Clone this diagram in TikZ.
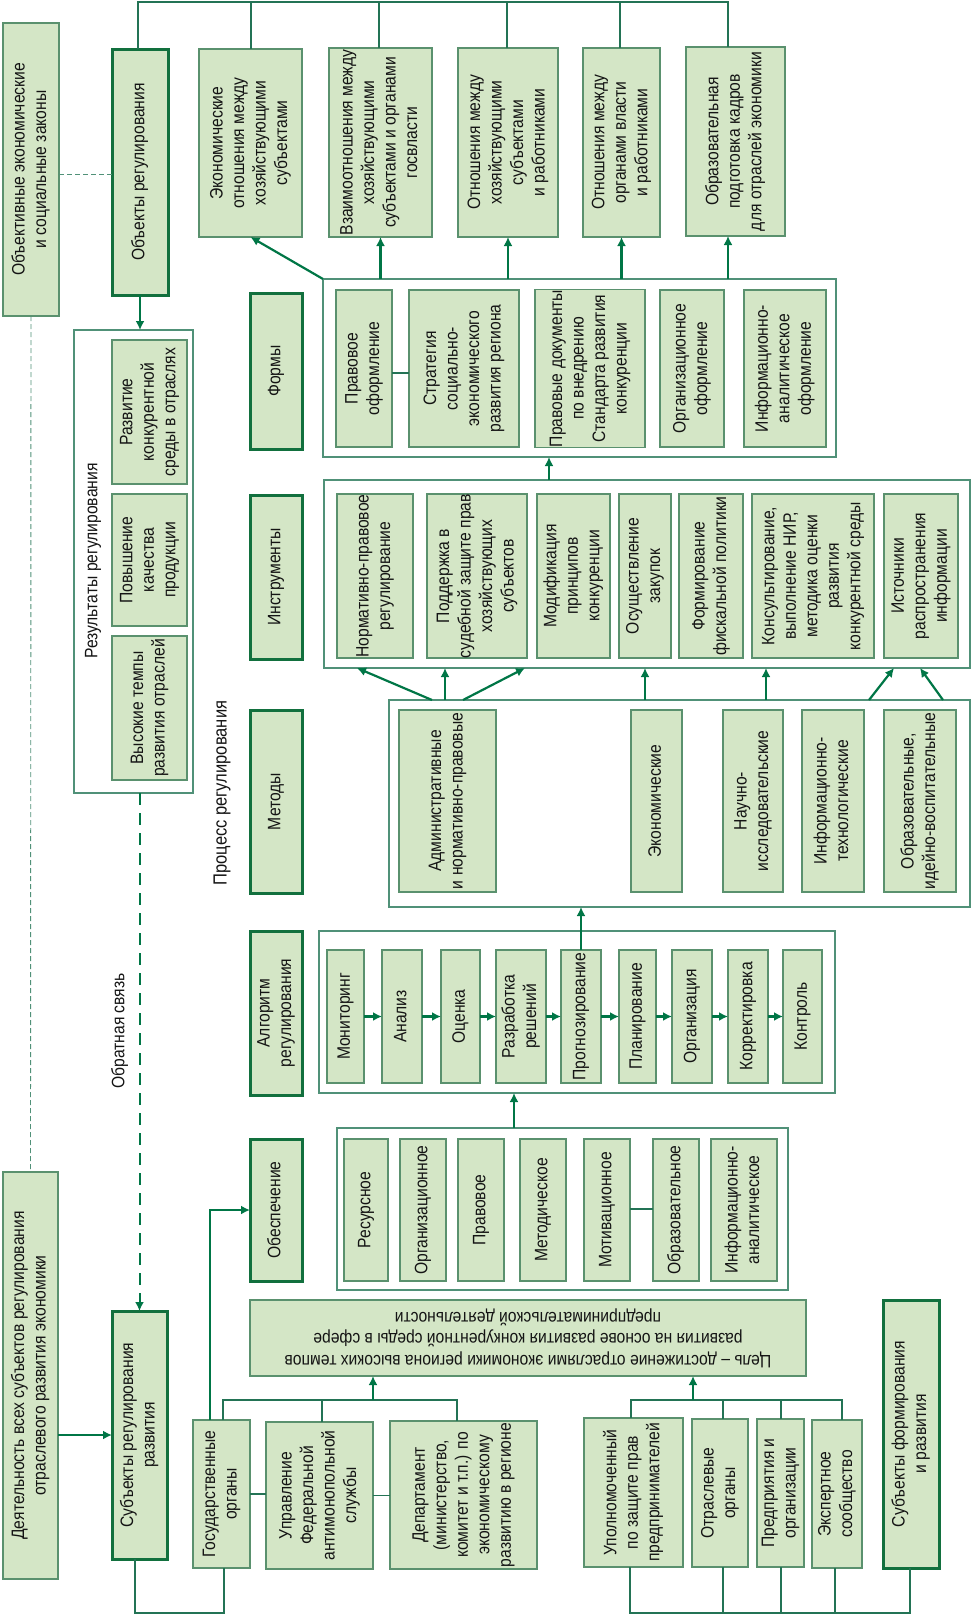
\documentclass[tikz,border=0pt]{standalone}
\usepackage{fontspec}
\setmainfont{Liberation Sans}[FakeStretch=0.87]
\usepackage{graphicx}
\usetikzlibrary{arrows.meta}
\definecolor{fl}{RGB}{212,230,198}
\definecolor{bd}{RGB}{90,145,110}
\definecolor{dk}{RGB}{18,112,62}
\definecolor{ac}{RGB}{0,118,70}
\definecolor{cb}{RGB}{80,145,120}
\definecolor{ln}{RGB}{35,115,85}
\definecolor{tx}{RGB}{20,20,20}
\newcommand\R[1]{\rotatebox{90}{\begin{tabular}{@{}c@{}}#1\end{tabular}}}
\newcommand\bx[7]{\node[#1,minimum width={(#5)-(#3)},minimum height={(#6)-(#4)}] (#2) at ({((#3)+(#5))/2},{((#4)+(#6))/2}) {#7};}
\begin{document}
\begin{tikzpicture}[x=1pt,y=-1pt,
  every node/.style={font=\fontsize{18}{21.5}\selectfont, text=tx, inner sep=0pt, outer sep=0pt},
  box/.style={draw=bd, fill=fl, line width=1.1pt},
  hbox/.style={draw=dk, fill=fl, line width=3pt},
  cont/.style={draw=cb, fill=white, line width=1.4pt},
  lbl/.style={},
  ln/.style={draw=ln, line width=1.5pt},
  arr/.style={draw=ac, line width=2.2pt, -{Latex[length=9pt,width=9pt]}},
  fbarr/.style={draw=ac, line width=2pt, dash pattern=on 12pt off 8pt, -{Latex[length=9pt,width=9pt]}},
  tdash/.style={draw=cb, line width=0.9pt, dash pattern=on 5pt off 3pt}]
\useasboundingbox (0,0) rectangle (971,1615);

% containers
\bx{cont}{res}{74}{330}{193}{793}{}
\bx{cont}{fc}{323}{279}{836}{457}{}
\bx{cont}{ic}{324}{480}{970}{668}{}
\bx{cont}{mc}{389}{700}{970}{907}{}
\bx{cont}{ac}{319}{931}{835}{1093}{}
\bx{cont}{sc}{337}{1128}{788}{1290}{}

% left column
\bx{box}{law}{3}{23}{59}{316}{\R{Объективные экономические\\и социальные законы}}
\bx{box}{act}{3}{1172}{58}{1579}{\R{Деятельность всех субъектов регулирования\\отраслевого развития экономики}}
\bx{hbox}{obj}{112}{49}{168}{295}{\R{Объекты регулирования}}
\bx{hbox}{subj}{112}{1311}{167}{1559}{\R{Субъекты регулирования\\развития}}
\node[lbl] (resl) at (93,561) {\R{Результаты регулирования}};
\bx{box}{r1}{112}{340}{187}{484}{\R{Развитие\\конкурентной\\среды в отраслях}}
\bx{box}{r2}{112}{494}{187}{626}{\R{Повышение\\качества\\продукции}}
\bx{box}{r3}{112}{636}{187}{780}{\R{Высокие темпы\\развития отраслей}}
\node[lbl] (fbl) at (120,1031) {\R{Обратная связь}};
\node[lbl,font=\fontsize{19}{23}\selectfont] (procl) at (222,793) {\R{Процесс регулирования}};

% headings
\bx{hbox}{hf}{250}{293}{302}{449}{\R{Формы}}
\bx{hbox}{hi}{250}{495}{302}{659}{\R{Инструменты}}
\bx{hbox}{hm}{250}{710}{302}{893}{\R{Методы}}
\bx{hbox}{ha}{250}{931}{302}{1095}{\R{Алгоритм\\регулирования}}
\bx{hbox}{ho}{250}{1139}{302}{1281}{\R{Обеспечение}}

% objects
\bx{box}{o1}{199}{49}{302}{237}{\R{Экономические\\отношения между\\хозяйствующими\\субъектами}}
\bx{box}{o2}{329}{48}{432}{237}{\R{Взаимоотношения между\\хозяйствующими\\субъектами и органами\\госвласти}}
\bx{box}{o3}{458}{48}{558}{237}{\R{Отношения между\\хозяйствующими\\субъектами\\и работниками}}
\bx{box}{o4}{583}{48}{660}{237}{\R{Отношения между\\органами власти\\и работниками}}
\bx{box}{o5}{686}{47}{785}{236}{\R{Образовательная\\подготовка кадров\\для отраслей экономики}}

% forms
\bx{box}{f1}{336}{290}{392}{447}{\R{Правовое\\оформление}}
\bx{box}{f2}{409}{290}{519}{447}{\R{Стратегия\\социально-\\экономического\\развития региона}}
\bx{box}{f3}{535}{290}{645}{447}{\R{Правовые документы\\по внедрению\\Стандарта развития\\конкуренции}}
\bx{box}{f4}{660}{290}{724}{447}{\R{Организационное\\оформление}}
\bx{box}{f5}{744}{290}{826}{447}{\R{Информационно-\\аналитическое\\оформление}}

% instruments
\bx{box}{i1}{337}{494}{413}{658}{\R{Нормативно-правовое\\регулирование}}
\bx{box}{i2}{427}{494}{527}{658}{\R{Поддержка в\\судебной защите прав\\хозяйствующих\\субъектов}}
\bx{box}{i3}{537}{494}{610}{658}{\R{Модификация\\принципов\\конкуренции}}
\bx{box}{i4}{619}{494}{671}{658}{\R{Осуществление\\закупок}}
\bx{box}{i5}{679}{494}{743}{658}{\R{Формирование\\фискальной политики}}
\bx{box}{i6}{752}{494}{874}{658}{\R{Консультирование,\\выполнение НИР,\\методика оценки\\развития\\конкурентной среды}}
\bx{box}{i7}{884}{494}{958}{658}{\R{Источники\\распространения\\информации}}

% methods
\bx{box}{m1}{399}{710}{496}{892}{\R{Административные\\и нормативно-правовые}}
\bx{box}{m2}{631}{710}{682}{892}{\R{Экономические}}
\bx{box}{m3}{723}{710}{783}{892}{\R{Научно-\\исследовательские}}
\bx{box}{m4}{802}{710}{864}{892}{\R{Информационно-\\технологические}}
\bx{box}{m5}{884}{710}{956}{892}{\R{Образовательные,\\идейно-воспитательные}}

% algorithm
\bx{box}{a1}{327}{950}{364}{1083}{\R{Мониторинг}}
\bx{box}{a2}{382}{950}{422}{1083}{\R{Анализ}}
\bx{box}{a3}{441}{950}{480}{1083}{\R{Оценка}}
\bx{box}{a4}{496}{950}{546}{1083}{\R{Разработка\\решений}}
\bx{box}{a5}{561}{950}{601}{1083}{\R{Прогнозирование}}
\bx{box}{a6}{619}{950}{656}{1083}{\R{Планирование}}
\bx{box}{a7}{672}{950}{712}{1083}{\R{Организация}}
\bx{box}{a8}{728}{950}{768}{1083}{\R{Корректировка}}
\bx{box}{a9}{783}{950}{822}{1083}{\R{Контроль}}

% support
\bx{box}{s1}{344}{1139}{388}{1281}{\R{Ресурсное}}
\bx{box}{s2}{400}{1139}{446}{1281}{\R{Организационное}}
\bx{box}{s3}{458}{1139}{504}{1281}{\R{Правовое}}
\bx{box}{s4}{520}{1139}{566}{1281}{\R{Методическое}}
\bx{box}{s5}{584}{1139}{630}{1281}{\R{Мотивационное}}
\bx{box}{s6}{653}{1139}{699}{1281}{\R{Образовательное}}
\bx{box}{s7}{711}{1139}{777}{1281}{\R{Информационно-\\аналитическое}}

% goal
\bx{box}{g}{250}{1300}{806}{1376}{\rotatebox{180}{\begin{tabular}{@{}c@{}}Цель – достижение отраслями экономики региона высоких темпов\\развития на основе развития конкурентной среды в сфере\\предпринимательской деятельности\end{tabular}}}

% bottom subjects
\bx{box}{b1}{193}{1420}{250}{1568}{\R{Государственные\\органы}}
\bx{box}{b2}{266}{1422}{373}{1569}{\R{Управление\\Федеральной\\антимонопольной\\службы}}
\bx{box}{b3}{390}{1421}{537}{1569}{\R{Департамент\\(министерство,\\комитет и т.п.) по\\экономическому\\развитию в регионе}}
\bx{box}{c1}{584}{1418}{683}{1567}{\R{Уполномоченный\\по защите прав\\предпринимателей}}
\bx{box}{c2}{692}{1419}{748}{1567}{\R{Отраслевые\\органы}}
\bx{box}{c3}{757}{1419}{804}{1567}{\R{Предприятия и\\организации}}
\bx{box}{c4}{812}{1420}{862}{1568}{\R{Экспертное\\сообщество}}
\bx{hbox}{sf}{883}{1300}{939}{1568}{\R{Субъекты формирования\\и развития}}

% ---- connectors ----
\draw[ln] (obj.north -| 138,0) |- (728,2) -- (o5.north -| 728,0);
\foreach \n/\xx in {o1/251,o2/379,o3/507,o4/620}{\draw[ln] (\n.north -| \xx,0) -- (\xx,2);}
\draw[arr] (obj.south) -- (obj.south |- res.north);
\draw[tdash] (law.east |- 0,174) -- (obj.west |- 0,174);
\draw[tdash] (law.south) -- (act.north);
\draw[fbarr] (res.south -| subj.north) -- (subj.north);
\draw[arr] (act.east |- subj.west) -- (subj.west);
\draw[ln] (subj.south -| 135,0) -- (135,1613) -| (b1.south -| 224,0);
\draw[arr] (b1.north -| 210,0) |- (ho.west);
\draw[ln] (b1.east) -- (b1.east -| b2.west);
\draw[ln] (b2.east) -- (b2.east -| b3.west);
% left tree
\draw[ln] (b1.north -| 223,0) -- (223,1400) -- (457,1400) -- (b3.north -| 457,0);
\draw[ln] (b2.north -| 322,0) -- (322,1400);
\draw[arr] (373,1400) -- (g.south -| 373,0);
% right tree
\draw[ln] (c1.north -| 631,0) -- (631,1400) -- (842,1400) -- (c4.north -| 842,0);
\draw[ln] (c2.north -| 723,0) -- (723,1400);
\draw[ln] (c3.north -| 781,0) -- (781,1400);
\draw[arr] (693,1400) -- (g.south -| 693,0);
% bottom right line
\draw[ln] (c1.south -| 630,0) -- (630,1613) -- (910,1613) -- (sf.south -| 910,0);
\draw[ln] (c2.south -| 723,0) -- (723,1613);
\draw[ln] (c3.south -| 781,0) -- (781,1613);
\draw[ln] (c4.south -| 835,0) -- (835,1613);
% small links
\draw[ln] (f1.east |- 0,373) -- (f2.west |- 0,373);
\draw[ln] (s5.east |- 0,1209) -- (s6.west |- 0,1209);
% forms to objects
\draw[arr] (fc.north -| o2.south) -- (o2.south);
\draw[arr] (fc.north -| o3.south) -- (o3.south);
\draw[arr] (fc.north -| o4.south) -- (o4.south);
\draw[arr] (fc.north -| 728,0) -- (o5.south -| 728,0);
\draw[arr] (fc.north west) -- (o1.south);
% instruments to forms
\draw[arr] (ic.north -| 549,0) -- (fc.south -| 549,0);
% methods to instruments
\draw[arr] (mc.north -| 432,0) -- (ic.south -| 357,0);
\draw[arr] (mc.north -| 445,0) -- (ic.south -| 445,0);
\draw[arr] (mc.north -| 463,0) -- (ic.south -| 525,0);
\draw[arr] (mc.north -| 645,0) -- (ic.south -| 645,0);
\draw[arr] (mc.north -| 766,0) -- (ic.south -| 766,0);
\draw[arr] (mc.north -| 869,0) -- (ic.south -| 894,0);
\draw[arr] (mc.north -| 943,0) -- (ic.south -| 920,0);
% algorithm
\draw[arr] (a5.north) -- (a5.north |- mc.south);
\foreach \p/\q in {a1/a2,a2/a3,a3/a4,a4/a5,a5/a6,a6/a7,a7/a8,a8/a9}{\draw[arr] (\p.east) -- (\q.west);}
\draw[arr] (sc.north -| 514,0) -- (ac.south -| 514,0);
\end{tikzpicture}
\end{document}
